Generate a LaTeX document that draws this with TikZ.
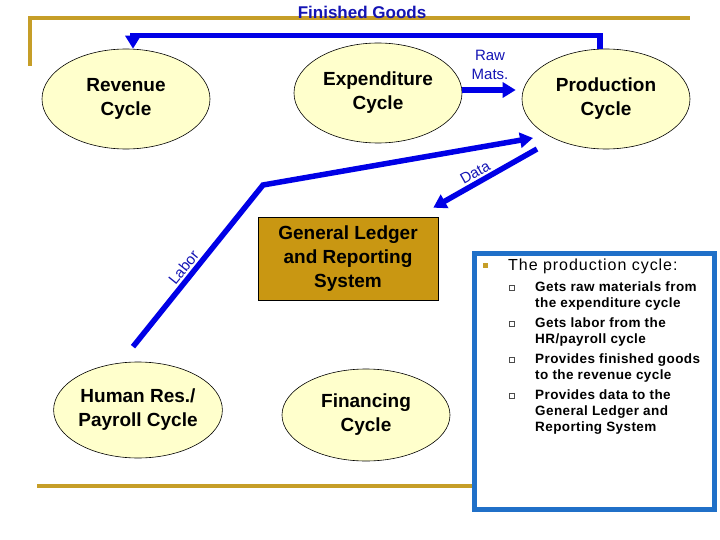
\documentclass[tikz,border=0pt]{standalone}
\usepackage{fontspec}
\setmainfont{Liberation Sans}
\newfontfamily\boxhead[LetterSpace=6]{Liberation Sans}
\newfontfamily\boxitem[LetterSpace=3]{Liberation Sans}
\usetikzlibrary{shapes.geometric,arrows.meta}
\definecolor{ellfill}{RGB}{255,255,204}
\definecolor{glgold}{RGB}{201,151,18}
\definecolor{framegold}{RGB}{198,158,40}
\definecolor{arrowblue}{RGB}{0,0,230}
\definecolor{lblblue}{RGB}{20,20,180}
\definecolor{boxblue}{RGB}{32,112,200}
\begin{document}
\begin{tikzpicture}[x=1pt,y=-1pt,
  cyc/.style={ellipse, draw=black, line width=0.6pt, fill=ellfill, minimum width=168pt, minimum height=100pt, inner sep=0pt, align=center, font=\fontsize{19}{24}\selectfont\bfseries},
  glbox/.style={draw=black, line width=0.6pt, fill=glgold, minimum width=180pt, minimum height=83pt, inner sep=0pt, align=center, font=\fontsize{19}{24}\selectfont\bfseries},
  flow/.style={draw=arrowblue, line width=5.5pt, -{Triangle[length=13pt,width=15pt]}},
  lbl/.style={text=lblblue, font=\fontsize{15}{18.7}\selectfont, inner sep=0pt},
  goldline/.style={draw=framegold, line width=4pt},
  subbullet/.style={draw=black!70, fill=white, line width=0.6pt, minimum size=5pt, inner sep=0pt},
  itemtext/.style={anchor=base west, inner sep=0pt, font=\boxitem\bfseries\fontsize{13.5}{16}\selectfont}
]
\useasboundingbox (0,0) rectangle (720,540);

% gold frame lines
\draw[goldline] (30,66) -- (30,18) -- (690,18);
\draw[goldline] (37,486) -- (472,486);

% cycles
\node[cyc] (rev) at (126,99) {Revenue\\Cycle};
\node[cyc] (exp) at (378,93) {Expenditure\\Cycle};
\node[cyc] (prod) at (606,99) {Production\\Cycle};
\node[cyc, minimum height=96pt] (hr) at (138,410) {Human Res./\\Payroll Cycle};
\node[cyc, minimum height=92pt] (fin) at (366,415) {Financing\\Cycle};
\node[glbox] (gl) at (348,258.5) {General Ledger\\and Reporting\\System};

% labels
\node[text=lblblue, inner sep=0pt, font=\fontsize{17}{20}\selectfont\bfseries] (fg) at (362,12) {Finished Goods};
\node[lbl, align=center] (raw) at (490,65) {Raw\\Mats.};

% connectors
\draw[flow] ([xshift=-6pt]prod.north) -- ++(0,-13) -| ([xshift=7pt]rev.north);
\draw[flow] ([yshift=3pt]exp.east) -- ([shift={(-6pt,9pt)}]prod.west);
\coordinate (labstart) at ([shift={(-5pt,15pt)}]hr.north);
\coordinate (labbend) at (263,185);
\draw[flow] (labstart) -- node[lbl, sloped, above=2pt, pos=0.45] (labor) {Labor} (labbend) -- ([shift={(-73pt,-39pt)}]prod.center);
\draw[flow] ([shift={(-69pt,-50pt)}]prod.center) -- node[lbl, sloped, above=2pt, pos=0.55] (data) {Data} ([shift={(-5pt,9pt)}]gl.north east);

% right panel
\node[draw=boxblue, line width=5pt, fill=white, minimum width=240pt, minimum height=256pt, inner sep=0pt] (panel) at (594.5,381.5) {};
\node[fill=framegold, minimum size=5.5pt, inner sep=0pt] (hb) at (485.5,265.5) {};
\node[anchor=base west, inner sep=0pt, font=\boxhead\fontsize{16}{19}\selectfont] (head) at (508,270) {The production cycle:};

\node[subbullet] (sb1) at (511.5,287.5) {};
\node[subbullet] (sb2) at (511.5,323.5) {};
\node[subbullet] (sb3) at (511.5,359.5) {};
\node[subbullet] (sb4) at (511.5,395.5) {};

\node[itemtext] (i1a) at (535,291) {Gets raw materials from};
\node[itemtext] (i1b) at (535,307) {the expenditure cycle};
\node[itemtext] (i2a) at (535,327) {Gets labor from the};
\node[itemtext] (i2b) at (535,343) {HR/payroll cycle};
\node[itemtext] (i3a) at (535,363) {Provides finished goods};
\node[itemtext] (i3b) at (535,379) {to the revenue cycle};
\node[itemtext] (i4a) at (535,399) {Provides data to the};
\node[itemtext] (i4b) at (535,415) {General Ledger and};
\node[itemtext] (i4c) at (535,431) {Reporting System};
\end{tikzpicture}
\end{document}
